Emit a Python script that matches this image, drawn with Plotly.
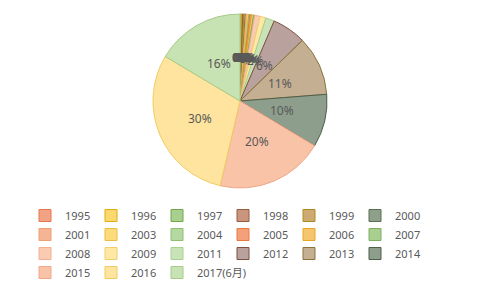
import math
import plotly.graph_objects as go

years = ["1995", "1996", "1997", "1998", "1999", "2000", "2001", "2003", "2004",
         "2005", "2006", "2007", "2008", "2009", "2011", "2012", "2013", "2014",
         "2015", "2016", "2017(6月)"]
values = [0.2, 0.2, 0.1, 0.2, 0.3, 0.1, 0.2, 0.3, 0.2,
          0.3, 0.4, 0.2, 1.0, 1.1, 1.6, 6.3, 11.0, 9.8,
          20.0, 29.8, 16.4]
fills = ["#F2A386", "#FCD86E", "#A9CF8F", "#C9957E", "#CDAA72", "#8FA08A",
         "#F5B594", "#FDDB7A", "#B5D8A0", "#F5A07A", "#F6C570", "#A8CF90",
         "#F9CBB2", "#FFE7A4", "#C9E3B8", "#B9A19D", "#C4AF93", "#8E9E8C",
         "#F9C3A8", "#FEE49F", "#C7E2B3"]
borders = ["#E5764E", "#E0AC10", "#70A84C", "#9A5A3C", "#B08A20", "#5A6E52",
           "#EDA070", "#E8BE40", "#8CC070", "#E87840", "#E8A820", "#7CB060",
           "#F2B090", "#F0CF70", "#A8D090", "#7F4F40", "#8A7538", "#4F5F48",
           "#F0A888", "#F0CC60", "#A4CC88"]

W, H = 482, 290
MR = 60                      # right margin (limits legend to 6 columns)
PW = W - MR                  # plot-area width
CX, CY, R = 240, 101, 87     # pie centre / radius in pixels

fig = go.Figure()
fig.add_trace(go.Pie(
    labels=years, values=values, sort=False, direction="clockwise", rotation=0,
    textinfo="none",
    marker=dict(colors=fills, line=dict(color=borders, width=1)),
    domain=dict(x=[(CX - R) / PW, (CX + R) / PW], y=[1 - (CY + R) / H, 1 - (CY - R) / H]),
    hoverinfo="label+percent",
))

# data labels (Excel "centre" placement: half radius along the slice bisector)
total = sum(values)
cum = 0.0
for v in values:
    mid = (cum + v / 2) / total * 2 * math.pi
    cum += v
    px = CX + 0.5 * R * math.sin(mid)
    py = CY - 0.5 * R * math.cos(mid)
    p = v / total * 100
    fig.add_annotation(
        x=px / PW, y=1 - py / H, xref="paper", yref="paper",
        xanchor="center", yanchor="middle",
        text=f"{round(p):.0f}%", showarrow=False,
        font=dict(size=12, color="#595959", family="Noto Sans"),
    )

fig.update_layout(
    width=W, height=H,
    margin=dict(l=0, r=MR, t=0, b=0),
    paper_bgcolor="white", plot_bgcolor="white",
    showlegend=True,
    legend=dict(
        orientation="h", x=25 / PW, xanchor="left", y=1 - 201 / H, yanchor="top",
        entrywidth=21, entrywidthmode="pixels",
        font=dict(size=11, color="#595959", family="Noto Sans, Noto Sans CJK SC"),
        itemwidth=30, traceorder="normal",
    ),
)

fig.write_html("out.html")
